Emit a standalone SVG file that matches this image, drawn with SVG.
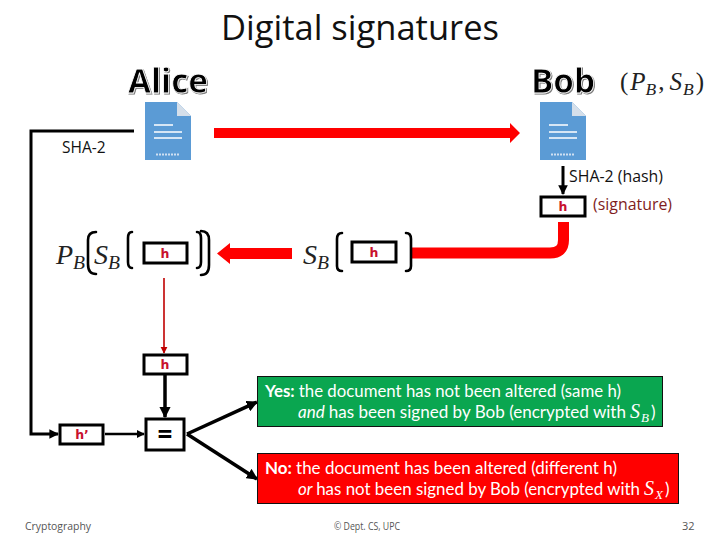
<svg xmlns="http://www.w3.org/2000/svg" width="720" height="540" viewBox="0 0 720 540">
<defs>
<style>
text{font-family:"Open Sans","Liberation Sans",sans-serif}
.box{fill:#fff;stroke:#000;stroke-width:3}
.h{font-family:"DejaVu Sans",sans-serif;font-weight:bold;font-size:12.500px;fill:#c8102e;text-anchor:middle}
.m{font-family:"Liberation Serif",serif;font-style:italic;fill:#222}
.sub{font-size:70%}
.br{fill:none;stroke:#000;stroke-width:2.600;stroke-linecap:round}
.lab{font-size:15.500px;fill:#111}
.who{font-weight:bold;font-size:34px;fill:#000;stroke:#fff;stroke-width:.8;filter:url(#sh)}
.msg{font-family:Lato,"Liberation Sans",sans-serif;font-size:17px;fill:#fff}
.wm{font-family:"Liberation Serif",serif;font-style:italic;fill:#fff;font-size:20px}
.ws{font-family:"Liberation Serif",serif;font-style:italic;fill:#fff;font-size:13px}
.blk{fill:none;stroke:#000}
</style>
<filter id="sh" x="-10%" y="-10%" width="120%" height="120%"><feDropShadow dx="1" dy="1" stdDeviation="0.3" flood-color="#777"/></filter>
<marker id="ab" viewBox="0 0 10 10" refX="9" refY="5" markerWidth="3.2" markerHeight="3.2" orient="auto"><path d="M0 0L10 5L0 10z" fill="#000"/></marker>
<marker id="ad" viewBox="0 0 10 10" refX="9" refY="5" markerWidth="4.500" markerHeight="4.500" orient="auto"><path d="M0 0L10 5L0 10z" fill="#c00000"/></marker>
<g id="docshape">
<path d="M0 0H32L46 14V58H0z" fill="#5b9bd5"/>
<path d="M32 0L46 14H32z" fill="#d5dfea"/>
<path d="M9 23H28M9 30H37M9 36H37" stroke="#fff" stroke-width="1.400"/>
<path d="M11 52.500H35" stroke="#cfe0f2" stroke-width="1.800" stroke-dasharray="2 1"/>
</g>
</defs>
<rect width="720" height="540" fill="#fff"/>
<g id="title"><text x="360" y="40" font-size="34" text-anchor="middle" fill="#111" textLength="278" lengthAdjust="spacingAndGlyphs">Digital signatures</text></g>
<g id="connectors">
<path d="M134 131H31V434H58" class="blk" stroke-width="3" marker-end="url(#ab)"/>
<path d="M214 128H510V123L520 133L510 143V138H214z" fill="#f00"/>
<path d="M563 166V194" class="blk" stroke-width="3" marker-end="url(#ab)"/>
<path d="M563.500 222V240Q563.500 253 550 253H412" fill="none" stroke="#f00" stroke-width="11"/>
<path d="M292 248V259H230V264L217 253.500L230 243V248z" fill="#f00"/>
<path d="M164 278V353" fill="none" stroke="#c00000" stroke-width="1.600" marker-end="url(#ad)"/>
<path d="M165 374V417" class="blk" stroke-width="3.500" marker-end="url(#ab)"/>
<path d="M105 434H144" class="blk" stroke-width="2.600" marker-end="url(#ab)"/>
<path d="M187 434L257 402" class="blk" stroke-width="3.500" marker-end="url(#ab)"/>
<path d="M187 434L257 479" class="blk" stroke-width="3.500" marker-end="url(#ab)"/>
</g>
<g id="alice"><text class="who" x="128" y="93" textLength="80" lengthAdjust="spacingAndGlyphs">Alice</text></g>
<g id="bob"><text class="who" x="531" y="93" textLength="64" lengthAdjust="spacingAndGlyphs">Bob</text>
<text class="m" x="620" y="90" font-size="25"><tspan font-style="normal">(</tspan><tspan dx="2">P</tspan><tspan class="sub" dy="5">B</tspan><tspan dy="-5" dx="2" font-style="normal">,</tspan><tspan dx="5">S</tspan><tspan class="sub" dy="5" dx="1">B</tspan><tspan dy="-5" dx="2" font-style="normal">)</tspan></text></g>
<g id="doc-alice"><use href="#docshape" x="145" y="102"/></g>
<g id="doc-bob"><use href="#docshape" x="540" y="102"/></g>
<g id="sha-left"><text class="lab" x="62" y="153">SHA-2</text></g>
<g id="sha-right"><text class="lab" x="569" y="182" textLength="94" lengthAdjust="spacingAndGlyphs">SHA-2 (hash)</text></g>
<g id="sig"><text class="lab" x="593" y="210" style="fill:#7f1d1d" textLength="79" lengthAdjust="spacingAndGlyphs">(signature)</text></g>
<g id="h-bob"><rect class="box" x="541" y="197" width="44" height="19"/><text class="h" x="563" y="211">h</text></g>
<g id="expr-left">
<text class="m" x="56" y="264" font-size="28">P<tspan class="sub" dy="5">B</tspan></text>
<path class="br" d="M96 232Q88 232 88 240V264Q88 274 96 274"/>
<text class="m" x="94" y="264" font-size="28">S<tspan class="sub" dy="5">B</tspan></text>
<path class="br" d="M132 232Q128 232 128 238V262Q128 268 132 268"/>
<rect class="box" x="144" y="243" width="43" height="20"/><text class="h" x="165" y="258">h</text>
<path class="br" d="M197 232Q201 232 201 238V262Q201 268 197 268"/>
<path class="br" d="M201 231Q209 231 209 240V265Q209 275 201 275"/>
</g>
<g id="expr-mid">
<text class="m" x="303" y="264" font-size="28">S<tspan class="sub" dy="5">B</tspan></text>
<path class="br" d="M342 233Q337 233 337 239V266Q337 271 342 271"/>
<rect class="box" x="352" y="242" width="44" height="20"/><text class="h" x="374" y="257">h</text>
<path class="br" d="M406 233Q411 233 411 239V266Q411 271 406 271"/>
</g>
<g id="h-mid"><rect class="box" x="144" y="355" width="43" height="19"/><text class="h" x="165" y="369">h</text></g>
<g id="h-prime"><rect class="box" x="60" y="425" width="43" height="19"/><text class="h" x="82" y="439">h’</text></g>
<g id="eq"><rect class="box" x="146" y="419" width="38" height="31"/><text x="165" y="444" font-size="26" font-weight="bold" text-anchor="middle" fill="#000">=</text></g>
<g id="yes"><rect x="257.500" y="376.500" width="405" height="50" fill="#0aa650" stroke="#111"/>
<text class="msg" x="265" y="397" textLength="356" lengthAdjust="spacingAndGlyphs"><tspan font-weight="bold">Yes: </tspan>the document has not been altered (same h)</text>
<text class="msg" x="298" y="418" textLength="328" lengthAdjust="spacingAndGlyphs"><tspan font-style="italic">and </tspan>has been signed by Bob (encrypted with</text>
<text class="wm" x="630" y="418">S</text><text class="ws" x="641" y="422">B</text><text class="msg" x="651" y="418">)</text></g>
<g id="no"><rect x="257.500" y="453.500" width="421" height="50" fill="#f00" stroke="#111"/>
<text class="msg" x="265" y="474" textLength="352" lengthAdjust="spacingAndGlyphs"><tspan font-weight="bold">No: </tspan>the document has been altered (different h)</text>
<text class="msg" x="298" y="495" textLength="342" lengthAdjust="spacingAndGlyphs"><tspan font-style="italic">or </tspan>has not been signed by Bob (encrypted with</text>
<text class="wm" x="644" y="495">S</text><text class="ws" x="655" y="499">X</text><text class="msg" x="665" y="495">)</text></g>
<g id="footer">
<text x="25" y="530" fill="#555" font-size="11" textLength="66" lengthAdjust="spacingAndGlyphs">Cryptography</text>
<text x="334" y="530" fill="#555" font-size="11" textLength="66" lengthAdjust="spacingAndGlyphs">© Dept. CS, UPC</text>
<text x="682" y="530" fill="#555" font-size="11">32</text>
</g>
</svg>
